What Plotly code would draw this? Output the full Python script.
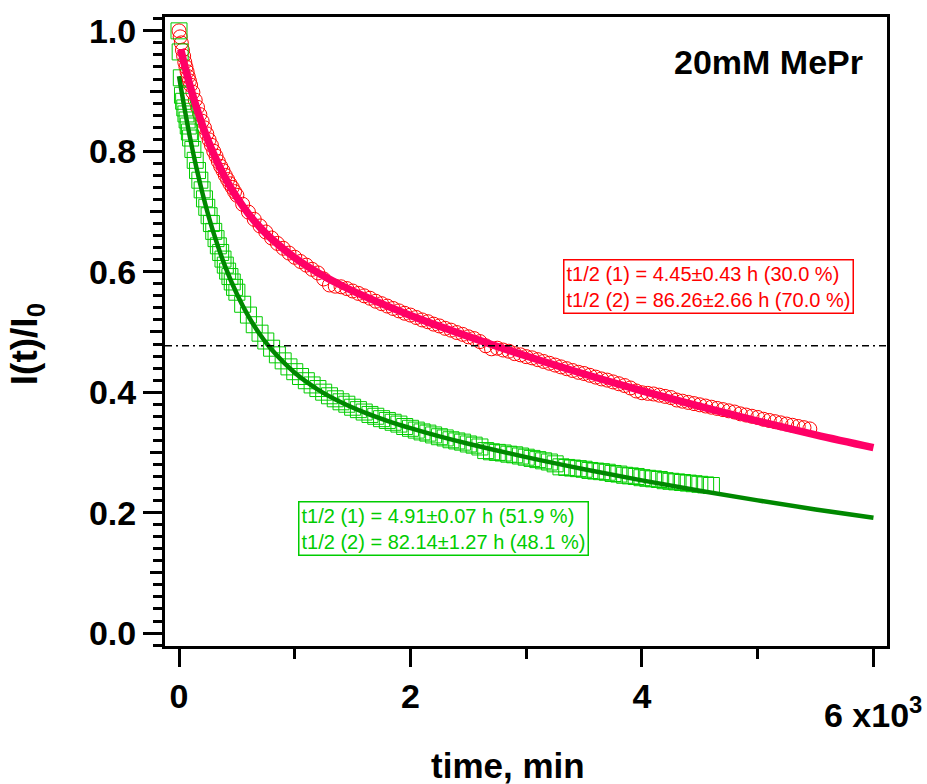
import plotly.graph_objects as go

# ---------------- data ----------------
red_t = [0, 10, 20, 30, 40, 50, 60, 70, 80, 90, 100,
         120, 140, 160, 180, 200, 220, 240, 260, 280, 300, 320, 340, 360, 380, 400, 420, 440, 460, 480, 500,
         550, 600, 650, 700, 750, 800, 850, 900, 950, 1000,
         1050, 1100, 1150, 1200, 1250, 1300, 1350, 1400, 1450, 1500,
         1550, 1600, 1650, 1700, 1750, 1800, 1850, 1900, 1950, 2000,
         2050, 2100, 2150, 2200, 2250, 2300, 2350, 2400, 2450, 2500,
         2550, 2600, 2650, 2700, 2750, 2800, 2850, 2900, 2950, 3000,
         3050, 3100, 3150, 3200, 3250, 3300, 3350, 3400, 3450, 3500,
         3550, 3600, 3650, 3700, 3750, 3800, 3850, 3900, 3950, 4000,
         4050, 4100, 4150, 4200, 4250, 4300, 4350, 4400, 4450, 4500,
         4550, 4600, 4650, 4700, 4750, 4800, 4850, 4900, 4950, 5000,
         5050, 5100, 5150, 5200, 5250, 5300, 5350, 5400, 5450]
red_v = [1.000, 0.990, 0.980, 0.968, 0.958, 0.948, 0.940, 0.932, 0.924, 0.917, 0.910,
         0.898, 0.885, 0.873, 0.861, 0.850, 0.839, 0.829, 0.819, 0.810, 0.800, 0.792, 0.783, 0.775, 0.768, 0.760, 0.753, 0.746, 0.740, 0.733, 0.727,
         0.712, 0.699, 0.687, 0.676, 0.666, 0.656, 0.647, 0.639, 0.631, 0.624,
         0.617, 0.611, 0.604, 0.598, 0.588, 0.578, 0.576, 0.575, 0.572, 0.568,
         0.564, 0.560, 0.556, 0.551, 0.547, 0.543, 0.539, 0.535, 0.531, 0.528,
         0.524, 0.520, 0.517, 0.513, 0.510, 0.506, 0.503, 0.499, 0.496, 0.492,
         0.489, 0.484, 0.477, 0.472, 0.473, 0.470, 0.468, 0.464, 0.462, 0.459,
         0.457, 0.454, 0.451, 0.448, 0.445, 0.442, 0.439, 0.436, 0.433, 0.431,
         0.428, 0.425, 0.422, 0.420, 0.417, 0.414, 0.411, 0.407, 0.402, 0.399,
         0.398, 0.397, 0.395, 0.393, 0.391, 0.387, 0.385, 0.383, 0.381, 0.379,
         0.377, 0.375, 0.373, 0.371, 0.369, 0.367, 0.364, 0.362, 0.360, 0.358,
         0.355, 0.353, 0.351, 0.349, 0.347, 0.345, 0.343, 0.341, 0.339]

green_t = [0, 10, 20, 30, 40, 50, 60, 70, 80, 90, 100,
           120, 140, 160, 180, 200, 220, 240, 260, 280, 300, 320, 340, 360, 380, 400, 420, 440, 460, 480, 500,
           550, 600, 650, 700, 750, 800, 850, 900, 950, 1000,
           1050, 1100, 1150, 1200, 1250, 1300, 1350, 1400, 1450, 1500,
           1550, 1600, 1650, 1700, 1750, 1800, 1850, 1900, 1950, 2000,
           2050, 2100, 2150, 2200, 2250, 2300, 2350, 2400, 2450, 2500,
           2550, 2600, 2650, 2700, 2750, 2800, 2850, 2900, 2950, 3000,
           3050, 3100, 3150, 3200, 3250, 3300, 3350, 3400, 3450, 3500,
           3550, 3600, 3650, 3700, 3750, 3800, 3850, 3900, 3950, 4000,
           4050, 4100, 4150, 4200, 4250, 4300, 4350, 4400, 4450, 4500,
           4550, 4600]
green_v = [1.000, 0.965, 0.922, 0.893, 0.883, 0.872, 0.862, 0.852, 0.842, 0.832, 0.822,
           0.803, 0.785, 0.768, 0.752, 0.736, 0.721, 0.707, 0.693, 0.680, 0.667, 0.655, 0.643, 0.632, 0.621, 0.611, 0.601, 0.592, 0.583, 0.574, 0.566,
           0.546, 0.528, 0.512, 0.498, 0.485, 0.473, 0.462, 0.452, 0.442, 0.434,
           0.426, 0.419, 0.412, 0.406, 0.400, 0.394, 0.389, 0.384, 0.380, 0.375,
           0.371, 0.367, 0.363, 0.360, 0.356, 0.353, 0.350, 0.347, 0.343, 0.340,
           0.337, 0.334, 0.332, 0.329, 0.326, 0.324, 0.321, 0.319, 0.317, 0.314,
           0.312, 0.309, 0.303, 0.301, 0.300, 0.299, 0.297, 0.296, 0.294, 0.292,
           0.290, 0.288, 0.286, 0.284, 0.281, 0.276, 0.275, 0.274, 0.273, 0.272,
           0.270, 0.269, 0.268, 0.267, 0.265, 0.264, 0.262, 0.261, 0.260, 0.258,
           0.257, 0.256, 0.255, 0.253, 0.252, 0.251, 0.250, 0.249, 0.248, 0.247,
           0.246, 0.245]

red_fit_t = [15, 30, 50, 75, 100, 150, 200, 250, 300, 400, 500, 600, 700, 800, 1000,
             1200, 1400, 1600, 1800, 2000, 2250, 2500, 2750, 3000, 3500, 4000, 4500, 5000, 5500, 6000]
red_fit_v = [0.9694, 0.9572, 0.9415, 0.9230, 0.9055, 0.8733, 0.8445, 0.8187, 0.7955, 0.7558,
             0.7233, 0.6964, 0.6737, 0.6545, 0.6233, 0.5984, 0.5776, 0.5594, 0.5429, 0.5275,
             0.5095, 0.4924, 0.4759, 0.4601, 0.4302, 0.4023, 0.3763, 0.3519, 0.3291, 0.3078]

green_fit_t = [0, 25, 50, 75, 100, 150, 200, 250, 300, 400, 500, 600, 700, 800, 1000,
               1200, 1400, 1600, 1800, 2000, 2250, 2500, 3000, 3500, 4000, 4500, 5000, 5500, 6000]
green_fit_v = [0.925, 0.8960, 0.8686, 0.8427, 0.8181, 0.7729, 0.7325, 0.6961, 0.6637, 0.6080,
               0.5629, 0.5259, 0.4957, 0.4707, 0.4322, 0.4043, 0.3832, 0.3664, 0.3524, 0.3402,
               0.3266, 0.3144, 0.2922, 0.2721, 0.2535, 0.2363, 0.2203, 0.2053, 0.1914]

half_level = 0.477

x_tickvals = [0, 2000, 4000, 6000]
x_ticktext = ["0", "2", "4", ""]
x_minor_vals = [1000, 3000, 5000]
x_last_label = "6 x10<sup>3</sup>"
y_tickvals = [0.0, 0.2, 0.4, 0.6, 0.8, 1.0]
y_ticktext = ["0.0", "0.2", "0.4", "0.6", "0.8", "1.0"]
y_mid_vals = [0.1, 0.3, 0.5, 0.7, 0.9]

red_label = "t1/2 (1) = 4.45±0.43 h (30.0 %)<br>t1/2 (2) = 86.26±2.66 h (70.0 %)"
green_label = "t1/2 (1) = 4.91±0.07 h (51.9 %)<br>t1/2 (2) = 82.14±1.27 h (48.1 %)"
title_label = "20mM MePr"
x_title = "time, min"
y_title = "I(t)/I<sub>0</sub>"

x_range = [-121, 6117]
y_range = [-0.0215, 1.023]

# ---------------- styles ----------------
FONT = "Liberation Sans, Arial, sans-serif"
RED = "rgb(255,0,0)"
PINK = "rgb(255,0,102)"
LGREEN = "rgb(0,204,0)"
DGREEN = "rgb(0,136,0)"

fig = go.Figure()
fig.add_trace(go.Scatter(x=red_t, y=red_v, mode="markers",
                         marker=dict(symbol="circle-open", size=14, color=RED, line=dict(width=1, color=RED)),
                         hoverinfo="skip"))
fig.add_trace(go.Scatter(x=green_t, y=green_v, mode="markers",
                         marker=dict(symbol="square-open", size=16, color=LGREEN, line=dict(width=1, color=LGREEN)),
                         hoverinfo="skip"))
fig.add_trace(go.Scatter(x=green_fit_t, y=green_fit_v, mode="lines", yaxis="y2",
                         line=dict(color=DGREEN, width=4.5, shape="spline"), hoverinfo="skip"))
fig.add_trace(go.Scatter(x=red_fit_t, y=red_fit_v, mode="lines", yaxis="y2",
                         line=dict(color=PINK, width=7.5, shape="spline"), hoverinfo="skip"))

tickfont = dict(family=FONT, size=34, color="black", weight="bold")

fig.update_layout(
    width=927, height=784,
    margin=dict(l=165, r=40, t=15, b=138),
    paper_bgcolor="white", plot_bgcolor="white",
    showlegend=False,
    xaxis=dict(range=x_range, tickvals=x_tickvals, ticktext=x_ticktext,
               ticks="outside", ticklen=18, tickwidth=3, tickcolor="black",
               showline=True, linewidth=3, linecolor="black", mirror=True,
               showgrid=False, zeroline=False, tickfont=tickfont,
               minor=dict(tickvals=x_minor_vals, ticks="outside", ticklen=10, tickwidth=3, tickcolor="black", showgrid=False)),
    yaxis=dict(range=y_range, tickvals=y_tickvals, ticktext=y_ticktext,
               ticks="outside", ticklen=19, tickwidth=3, tickcolor="black",
               showline=True, linewidth=3, linecolor="black", mirror=True,
               showgrid=False, zeroline=False, tickfont=tickfont,
               minor=dict(dtick=0.02, tick0=0, ticks="outside", ticklen=9, tickwidth=3, tickcolor="black", showgrid=False)),
    yaxis2=dict(range=y_range, overlaying="y", side="left", tickvals=y_mid_vals,
                ticks="outside", ticklen=14, tickwidth=3, tickcolor="black",
                showticklabels=False, showline=False, showgrid=False, zeroline=False),
)

fig.add_shape(type="line", xref="paper", x0=0, x1=1, yref="y", y0=half_level, y1=half_level,
              line=dict(color="black", width=1.5, dash="7px,4px,2px,4px"))

annos = [
    dict(text=title_label, xref="paper", yref="paper", x=0.97, y=0.929, xanchor="right", yanchor="middle",
         showarrow=False, font=dict(family=FONT, size=34, color="black", weight="bold")),
    dict(text=red_label, xref="paper", yref="paper", x=0.551, y=0.615, xanchor="left", yanchor="top",
         showarrow=False, align="left", bgcolor="white", bordercolor=RED, borderwidth=1.5, borderpad=2,
         font=dict(family=FONT, size=20, color=RED)),
    dict(text=green_label, xref="paper", yref="paper", x=0.184, y=0.230, xanchor="left", yanchor="top",
         showarrow=False, align="left", bgcolor="white", bordercolor=LGREEN, borderwidth=1.5, borderpad=2,
         font=dict(family=FONT, size=20, color=LGREEN)),
    dict(text=x_title, xref="paper", yref="paper", x=0.475, y=-0.190, xanchor="center", yanchor="middle",
         showarrow=False, font=dict(family=FONT, size=35, color="black", weight="bold")),
    dict(text=y_title, xref="paper", yref="paper", x=-0.191, y=0.48, xanchor="center", yanchor="middle",
         textangle=-90, showarrow=False, font=dict(family=FONT, size=37, color="black", weight="bold")),
    dict(text=x_last_label, xref="x", yref="paper", x=x_tickvals[-1], y=-0.106, xanchor="center", yanchor="middle",
         showarrow=False, font=dict(family=FONT, size=34, color="black", weight="bold")),
]
for a in annos:
    fig.add_annotation(**a)

fig.write_html("out.html")
